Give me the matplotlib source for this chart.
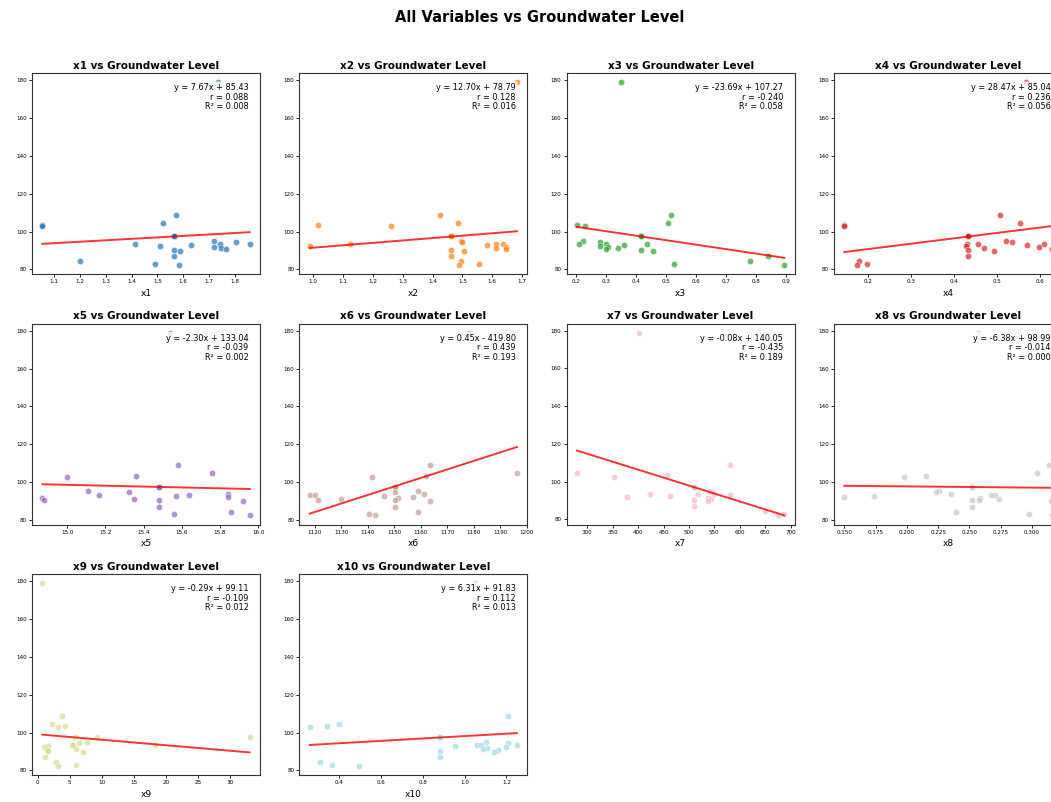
import matplotlib
matplotlib.use('Agg')
import matplotlib.pyplot as plt
import numpy as np

# groundwater level (shared y for every panel)
gw_level = [179.0, 109.0, 104.6, 103.3, 102.7, 97.4, 97.4, 97.4, 95.2, 94.7,
            93.6, 93.4, 93.4, 92.7, 92.2, 91.8, 91.2, 90.7, 90.4, 89.9,
            87.0, 84.4, 83.0, 82.4]

x1 = [1.736, 1.573, 1.52, 1.055, 1.055, 1.563, 1.563, 1.563, 1.72, 1.803,
      1.415, 1.742, 1.857, 1.63, 1.51, 1.72, 1.747, 1.765, 1.563, 1.587,
      1.563, 1.199, 1.49, 1.582]
x2 = [1.683, 1.426, 1.486, 1.016, 1.262, 1.462, 1.462, 1.462, 1.495, 1.50,
      1.123, 1.614, 1.635, 1.583, 0.988, 1.645, 1.614, 1.647, 1.462, 1.504,
      1.462, 1.496, 1.555, 1.489]
x3 = [0.349, 0.515, 0.504, 0.202, 0.229, 0.417, 0.417, 0.417, 0.222, 0.278,
      0.209, 0.436, 0.298, 0.36, 0.278, 0.305, 0.339, 0.30, 0.417, 0.457,
      0.84, 0.78, 0.526, 0.893]
x4 = [0.567, 0.508, 0.553, 0.145, 0.145, 0.433, 0.433, 0.433, 0.521, 0.535,
      0.431, 0.456, 0.609, 0.57, 0.427, 0.597, 0.469, 0.627, 0.433, 0.494,
      0.433, 0.18, 0.198, 0.174]
x5 = [15.54, 15.58, 15.756, 15.36, 15.0, 15.48, 15.48, 15.48, 15.11, 15.325,
      15.84, 15.166, 15.64, 15.57, 15.84, 14.87, 15.35, 14.88, 15.48, 15.92,
      15.48, 15.855, 15.56, 15.955]
x6 = [1177.7, 1163.4, 1196.3, 1161.9, 1141.5, 1150.3, 1150.3, 1150.3, 1158.8, 1150.1,
      1161.2, 1118.0, 1120.0, 1146.0, 1157.1, 1151.2, 1130.0, 1121.2, 1150.3, 1163.3,
      1150.3, 1158.8, 1140.4, 1142.8]
x7 = [401, 580.7, 279.7, 457.4, 353, 510.5, 510.5, 510.5, 540.7, 545,
      424, 518.4, 549.8, 580, 463.3, 378, 538, 542.6, 510.5, 538,
      510.5, 650, 687.5, 675.7]
x8 = [0.2566, 0.3137, 0.3038, 0.215, 0.198, 0.252, 0.252, 0.252, 0.2254, 0.223,
      0.235, 0.2703, 0.267, 0.174, 0.150, 0.2588, 0.274, 0.2577, 0.252, 0.315,
      0.252, 0.239, 0.2976, 0.3156]
x9 = [0.73, 3.8, 2.3, 4.2, 3.1, 5.8, 9.3, 33.1, 7.7, 6.4,
      18.25, 5.3, 5.46, 1.56, 1.04, 1.3, 6.0, 1.45, 1.56, 7.0,
      1.14, 2.86, 6.0, 3.1]
x10 = [1.05, 1.205, 0.397, 0.341, 0.259, 0.884, 0.884, 0.884, 1.1, 1.205,
       1.06, 1.079, 1.25, 0.956, 1.198, 1.105, 1.09, 1.16, 0.884, 1.14,
       0.884, 0.307, 0.365, 0.495]

var_names = ['x1', 'x2', 'x3', 'x4', 'x5', 'x6', 'x7', 'x8', 'x9', 'x10']
x_values = [x1, x2, x3, x4, x5, x6, x7, x8, x9, x10]

# fit results as printed on the chart
slopes = [7.67, 12.70, -23.69, 28.47, -2.30, 0.45, -0.0843, -6.38, -0.29, 6.31]
intercepts = [85.43, 78.79, 107.27, 85.04, 133.04, -419.80, 140.05, 98.99, 99.11, 91.83]
r_values = [0.088, 0.128, -0.240, 0.236, -0.039, 0.439, -0.435, -0.014, -0.109, 0.112]
r2_values = [0.008, 0.016, 0.058, 0.056, 0.002, 0.193, 0.189, 0.000, 0.012, 0.013]

colors = plt.cm.tab20(np.linspace(0, 1, len(var_names)))

W, H = 1051, 802
fig = plt.figure(figsize=(W / 100, H / 100), dpi=100)
fig.suptitle('All Variables vs Groundwater Level', fontsize=10.5,
             fontweight='bold', x=540 / W, y=1 - 10 / H, va='top')

left0, col_pitch, ax_w = 32, 267.3, 228
top0, row_pitch, ax_h = 73, 250.5, 201

for i, name in enumerate(var_names):
    row, col = divmod(i, 4)
    left = left0 + col * col_pitch
    top = top0 + row * row_pitch
    ax = fig.add_axes([left / W, 1 - (top + ax_h) / H, ax_w / W, ax_h / H])

    xs = np.array(x_values[i])
    ys = np.array(gw_level)
    ax.scatter(xs, ys, s=21, color=colors[i], alpha=0.7,
               edgecolors='white', linewidths=0.5, zorder=2)

    x_line = np.array([xs.min(), xs.max()])
    ax.plot(x_line, slopes[i] * x_line + intercepts[i], color='red',
            alpha=0.8, linewidth=1.4, zorder=3)

    sign = '+' if intercepts[i] >= 0 else '-'
    txt = (f'y = {slopes[i]:.2f}x {sign} {abs(intercepts[i]):.2f}\n'
           f'r = {r_values[i]:.3f}\nR\u00b2 = {r2_values[i]:.3f}')
    ax.text(0.95, 0.95, txt, transform=ax.transAxes, ha='right', va='top',
            fontsize=5.9, linespacing=1.1, zorder=4,
            bbox=dict(boxstyle='round,pad=0.2', facecolor='white',
                      edgecolor='none', alpha=0.8))

    ax.set_title(f'{name} vs Groundwater Level', fontsize=7.5,
                 fontweight='bold', pad=3)
    ax.set_xlabel(name, fontsize=6.5, labelpad=3.5)
    ax.set_yticks([80, 100, 120, 140, 160, 180])
    ax.tick_params(labelsize=4.1, length=2.2, width=0.6, pad=1.5)
    for sp in ax.spines.values():
        sp.set_linewidth(0.8)
        sp.set_color('#333333')

fig.savefig('out.png', dpi=100)
